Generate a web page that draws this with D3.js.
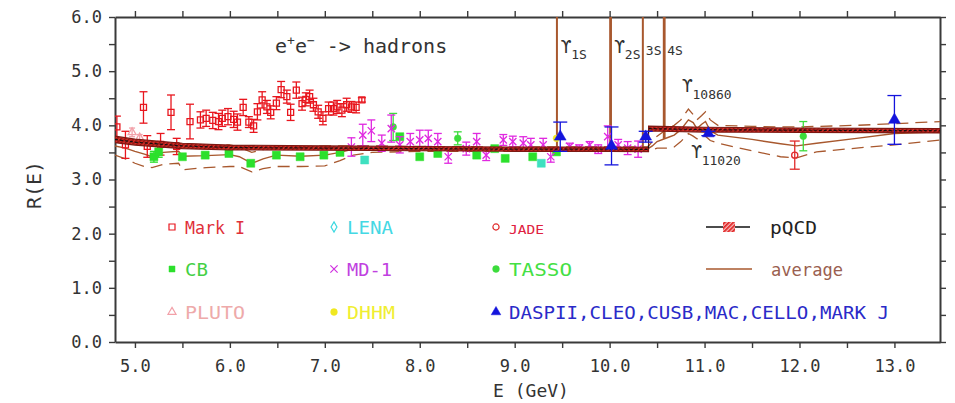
<!DOCTYPE html>
<html>
<head>
<meta charset="utf-8">
<script src="https://cdn.jsdelivr.net/npm/d3@7"></script>
<style>
  body { margin: 0; background: #fff; }
  svg { display: block; }
  text { font-family: "DejaVu Sans Mono", monospace; }
</style>
</head>
<body>
<div id="chart"></div>
<script>
// ---- data: [E (GeV), R, error] ----
const markI = [[4.81,3.97,0.20],[4.90,3.64,0.25],[5.09,4.33,0.29],[5.13,3.61,0.20],[5.27,3.65,0.20],
  [5.38,4.24,0.32],[5.44,3.61,0.15],[5.58,4.07,0.32],[5.69,4.10,0.15],[5.75,4.13,0.15],[5.82,4.09,0.15],
  [5.88,4.07,0.15],[5.92,4.13,0.15],[5.98,4.16,0.15],[6.04,4.11,0.15],[6.08,4.06,0.15],[6.14,4.33,0.15],
  [6.20,4.06,0.10],[6.25,3.99,0.12],[6.29,4.25,0.15],[6.34,4.47,0.15],[6.39,4.34,0.12],[6.43,4.24,0.12],
  [6.49,4.41,0.12],[6.54,4.66,0.15],[6.60,4.53,0.12],[6.64,4.24,0.15],[6.70,4.65,0.15],[6.76,4.40,0.12],
  [6.80,4.48,0.12],[6.84,4.53,0.12],[6.88,4.38,0.12],[6.93,4.25,0.12],[6.98,4.13,0.12],[7.04,4.31,0.12],
  [7.09,4.31,0.12],[7.13,4.34,0.12],[7.18,4.28,0.12],[7.23,4.38,0.12],[7.28,4.34,0.10],[7.33,4.33,0.10],
  [7.39,4.47,0.04]];
const cb = [[5.20,3.42,0.10],[5.25,3.51,0.10],[5.50,3.42,0],[5.74,3.45,0],[5.99,3.48,0],[6.22,3.30,0],
  [6.49,3.45,0],[6.74,3.42,0],[6.99,3.45,0],[7.16,3.50,0],[7.79,3.79,0],[8.00,3.42,0],[8.19,3.48,0],
  [8.60,3.45,0],[8.79,3.57,0],[8.90,3.39,0],[9.19,3.42,0],[9.44,3.51,0]];
const pluto = [[4.97,3.87,0.08],[5.05,3.77,0.06]];
const lena = [[7.42,3.36,0],[9.28,3.30,0]];
const md1 = [[7.28,3.60,0.17],[7.40,3.82,0.20],[7.49,3.90,0.20],[7.60,3.67,0.15],[7.70,3.94,0.25],
  [7.79,3.64,0.15],[7.90,3.70,0.15],[8.00,3.73,0.18],[8.09,3.76,0.15],[8.19,3.70,0.15],[8.30,3.42,0.12],
  [8.49,3.57,0.12],[8.60,3.70,0.15],[8.70,3.45,0.10],[8.88,3.73,0.10],[8.98,3.70,0.10],[9.09,3.67,0.12],
  [9.17,3.64,0.12],[9.30,3.64,0.12],[9.38,3.42,0.10],[9.58,3.61,0.06],[9.68,3.58,0.06],[9.79,3.64,0.06],
  [9.88,3.56,0.08],[9.98,3.79,0.20],[10.09,3.64,0.10],[10.19,3.58,0.12],[10.30,3.56,0.15]];
const dhhm = [[9.44,3.76,0]];
const jade = [[11.95,3.45,0.26]];
const tasso = [[7.72,3.97,0.25],[8.40,3.76,0.12],[12.04,3.80,0.27]];
const dasp = [[9.48,3.79,0.27],[10.02,3.62,0.35],[10.38,3.79,0.10],[11.04,3.85,0.04],[13.00,4.10,0.45]];

// pQCD band
const qcdE   = [4.79, 5.0, 5.5, 6.0, 7.0, 8.0, 9.0, 10.0, 10.41, 10.41, 11.0, 12.0, 13.48];
const qcdR   = [3.74, 3.69, 3.62, 3.59, 3.58, 3.57, 3.56, 3.56, 3.555, 3.94, 3.92, 3.91, 3.90];
const qcdErr = [0.06, 0.055, 0.05, 0.045, 0.04, 0.04, 0.04, 0.04, 0.04, 0.045, 0.045, 0.04, 0.04];

// average with its error band
const avgE  = [4.79,4.9,5.0,5.1,5.18,5.3,5.46,5.5,5.75,6.0,6.1,6.23,6.35,6.49,6.75,7.0,7.16,7.3,7.5,8.0,9.0,
  10.0,10.4,10.45,10.5,10.62,10.68,10.75,10.83,10.88,10.92,10.97,11.01,11.06,11.14,11.5,11.8,11.97,12.18,12.6,13.0,13.48];
const avgR  = [3.62,3.58,3.52,3.47,3.42,3.50,3.52,3.43,3.44,3.46,3.42,3.30,3.38,3.45,3.43,3.45,3.50,3.56,3.57,3.57,3.56,
  3.56,3.56,3.62,3.70,3.78,3.82,3.92,4.10,4.05,3.94,4.02,4.07,3.90,3.82,3.74,3.66,3.62,3.67,3.76,3.85,3.88];
const avgLo = [3.45,3.38,3.30,3.24,3.22,3.28,3.30,3.18,3.22,3.24,3.24,3.14,3.20,3.24,3.24,3.25,3.35,3.45,3.50,3.52,3.52,
  3.52,3.52,3.55,3.58,3.58,3.60,3.70,3.85,3.80,3.75,3.78,3.80,3.72,3.67,3.53,3.42,3.40,3.51,3.58,3.64,3.73];
const avgHi = [3.78,3.74,3.70,3.68,3.62,3.66,3.68,3.62,3.62,3.64,3.60,3.50,3.55,3.62,3.60,3.62,3.62,3.62,3.62,3.61,3.60,
  3.60,3.60,3.70,3.80,3.95,4.00,4.10,4.30,4.20,4.10,4.18,4.25,4.10,4.00,3.98,3.97,3.97,3.98,4.00,4.03,4.07];

// Upsilon resonances
const upsE = [9.445, 10.01, 10.35, 10.575];
const upsSub = ['1S', '2S', '3S', '4S'];

const legendNames = ['Mark I', 'LENA', 'JADE', 'CB', 'MD-1', 'TASSO', 'PLUTO', 'DHHM',
  'DASPII,CLEO,CUSB,MAC,CELLO,MARK J'];

// ---- layout ----
const W = 955, H = 403;
const axisCol = '#3a3a3a';
const x = d3.scaleLinear().domain([4.79, 13.48]).range([115, 940]);
const y = d3.scaleLinear().domain([0, 6]).range([342, 17]);

const svg = d3.select('#chart').append('svg').attr('width', W).attr('height', H);
const defs = svg.append('defs');
defs.append('clipPath').attr('id', 'plot')
  .append('rect').attr('x', 115).attr('y', 17).attr('width', 825).attr('height', 325);
const hatch = defs.append('pattern').attr('id', 'hatch')
  .attr('patternUnits', 'userSpaceOnUse').attr('width', 3).attr('height', 3)
  .attr('patternTransform', 'rotate(45)');
hatch.append('rect').attr('width', 3).attr('height', 3).attr('fill', '#d8302a');
hatch.append('rect').attr('width', 1.5).attr('height', 3).attr('fill', '#901410');
const hatchLeg = defs.append('pattern').attr('id', 'hatchLeg')
  .attr('patternUnits', 'userSpaceOnUse').attr('width', 3).attr('height', 3)
  .attr('patternTransform', 'rotate(45)');
hatchLeg.append('rect').attr('width', 3).attr('height', 3).attr('fill', '#f6b8b8');
hatchLeg.append('rect').attr('width', 1.6).attr('height', 3).attr('fill', '#e01c1c');

// axes
const xt = d3.range(5, 13.01, 0.5);
const yt = d3.range(0, 6.01, 0.5);
const fmt = d => Number.isInteger(d) ? d.toFixed(1) : '';

function styleAxis(g) {
  g.select('.domain').attr('stroke', axisCol).attr('stroke-width', 2);
  g.selectAll('.tick line').attr('stroke', axisCol).attr('stroke-width', 1.4);
  g.selectAll('.tick text').attr('fill', '#333').attr('font-size', 17)
    .attr('font-family', '"DejaVu Sans Mono", monospace');
}
svg.append('g').attr('transform', 'translate(0,342)')
  .call(d3.axisBottom(x).tickValues(xt).tickFormat(fmt).tickSize(6).tickSizeOuter(0).tickPadding(12))
  .call(styleAxis);
svg.append('g').attr('transform', 'translate(0,17)')
  .call(d3.axisTop(x).tickValues(xt).tickFormat('').tickSize(6).tickSizeOuter(0))
  .call(styleAxis);
svg.append('g').attr('transform', 'translate(115,0)')
  .call(d3.axisLeft(y).tickValues(yt).tickFormat(fmt).tickSize(6).tickSizeOuter(0).tickPadding(7))
  .call(styleAxis);
svg.append('g').attr('transform', 'translate(940,0)')
  .call(d3.axisRight(y).tickValues(yt).tickFormat('').tickSize(6).tickSizeOuter(0))
  .call(styleAxis);

svg.append('text').attr('x', 531).attr('y', 397).attr('text-anchor', 'middle')
  .attr('font-size', 18).attr('fill', '#333').text('E (GeV)');
svg.append('text').attr('transform', 'translate(41,185) rotate(-90)').attr('text-anchor', 'middle')
  .attr('font-size', 20).attr('fill', '#333').text('R(E)');

// process label
const proc = svg.append('text').attr('x', 275).attr('y', 53).attr('font-size', 20).attr('fill', '#333');
proc.append('tspan').text('e');
proc.append('tspan').attr('font-size', 13).attr('dy', -8).text('+');
proc.append('tspan').attr('dy', 8).text('e');
proc.append('tspan').attr('font-size', 13).attr('dy', -8).text('\u2212');
proc.append('tspan').attr('dy', 8).text('  -> hadrons');

const plot = svg.append('g').attr('clip-path', 'url(#plot)');

// average curve, error band and resonance spikes
const brown = '#a8582e';
const line = d3.line().x(d => x(d[0])).y(d => y(d[1]));
const avgMid = d3.scaleLinear().domain(avgE).range(avgR);
[avgLo, avgHi].forEach(arr => {
  plot.append('path').datum(avgE.map((e, i) => [e, arr[i]])).attr('d', line)
    .attr('fill', 'none').attr('stroke', brown).attr('stroke-width', 1.3).attr('stroke-dasharray', '12,7');
});
plot.append('path').datum(avgE.map((e, i) => [e, avgR[i]])).attr('d', line)
  .attr('fill', 'none').attr('stroke', brown).attr('stroke-width', 1.4);
upsE.forEach((e, i) => {
  plot.append('line').attr('x1', x(e)).attr('x2', x(e)).attr('y1', y(avgMid(e))).attr('y2', y(6.2))
    .attr('stroke', brown).attr('stroke-width', i % 2 ? 2.8 : 2.0);
});

// symbols
const sym = {
  square: d3.symbol(d3.symbolSquare, 36),
  bigsquare: d3.symbol(d3.symbolSquare, 64),
  tri: d3.symbol(d3.symbolTriangle, 60),
  smalltri: d3.symbol(d3.symbolTriangle, 28),
  circle: d3.symbol(d3.symbolCircle, 30),
  dot: d3.symbol(d3.symbolCircle, 36),
  diamond: d3.symbol(d3.symbolDiamond, 30),
  times: d3.symbol(d3.symbolTimes, 36)
};

function drawSeries(g, data, color, shape, filled, cap) {
  const eb = data.filter(d => d[2] > 0);
  g.selectAll(null).data(eb).join('line')
    .attr('x1', d => x(d[0])).attr('x2', d => x(d[0]))
    .attr('y1', d => y(d[1] - d[2])).attr('y2', d => y(d[1] + d[2]))
    .attr('stroke', color).attr('stroke-width', 1.3);
  [-1, 1].forEach(s => {
    g.selectAll(null).data(eb).join('line')
      .attr('x1', d => x(d[0]) - cap).attr('x2', d => x(d[0]) + cap)
      .attr('y1', d => y(d[1] + s * d[2])).attr('y2', d => y(d[1] + s * d[2]))
      .attr('stroke', color).attr('stroke-width', 1.3);
  });
  g.selectAll(null).data(data).join('path')
    .attr('transform', d => `translate(${x(d[0])},${y(d[1])})`)
    .attr('d', sym[shape]())
    .attr('fill', filled ? color : '#fff').attr('fill-opacity', filled ? 1 : 0)
    .attr('stroke', color).attr('stroke-width', filled ? 0.5 : 1.3);
}

drawSeries(plot, markI, '#e8161e', 'square', false, 4);
drawSeries(plot, cb, '#2ce02c', 'bigsquare', true, 4);
drawSeries(plot, lena, '#3fe0c0', 'bigsquare', true, 4);
drawSeries(plot, pluto, '#f2a0a8', 'smalltri', false, 3);
drawSeries(plot, tasso, '#3cdc3c', 'dot', true, 4);
drawSeries(plot, md1, '#e028e0', 'times', false, 4);
drawSeries(plot, dhhm, '#f0e820', 'dot', true, 4);
drawSeries(plot, jade, '#e02a2a', 'circle', false, 5);

// pQCD band with black central line
const band = d3.area().x(d => x(d[0])).y0(d => y(d[1] - d[2])).y1(d => y(d[1] + d[2]));
const qcd = qcdE.map((e, i) => [e, qcdR[i], qcdErr[i]]);
plot.append('path').datum(qcd).attr('d', band)
  .attr('fill', 'url(#hatch)').attr('stroke', '#7e1812').attr('stroke-width', 1.1);
plot.append('path').datum(qcd).attr('d', line)
  .attr('fill', 'none').attr('stroke', '#111').attr('stroke-width', 1.2).attr('stroke-dasharray', '3,2');

drawSeries(plot, dasp, '#1414dc', 'tri', true, 7);

// resonance labels
const upsLab = svg.append('g').attr('fill', '#333');
upsE.forEach((e, i) => {
  const t = upsLab.append('text').attr('x', x(e) + (i < 2 ? 4 : 3)).attr('y', 53).attr('font-size', 17)
    .attr('font-family', '"DejaVu Sans", sans-serif');
  if (i < 2) t.append('tspan').text('\u03d2');
  t.append('tspan').attr('font-size', 13).attr('dy', i < 2 ? 6 : 2).text(upsSub[i]);
});
[[10.86, 'ϒ', '10860', -9, 92], [11.02, 'ϒ', '11020', -15, 158]].forEach(([e, s, lab, dx, yy]) => {
  const t = upsLab.append('text').attr('x', x(e) + dx).attr('y', yy).attr('font-size', 17)
    .attr('font-family', '"DejaVu Sans", sans-serif');
  t.append('tspan').text(s);
  t.append('tspan').attr('font-size', 13).attr('dy', 7).text(lab);
});

// legend
const legCols = [172, 334, 496];
const legRows = [227, 269, 312];
const legSpec = [
  ['#e8161e', '#e0303a', 'square', false], ['#3ad8e0', '#44d8e4', 'diamond', false], ['#e02a2a', '#e02040', 'circle', false],
  ['#2ce02c', '#44d044', 'bigsquare', true], ['#d030e0', '#c040e0', 'times', false], ['#3cdc3c', '#44e044', 'dot', true],
  ['#f2a0a8', '#eeaaaa', 'smalltri', false], ['#f0e820', '#f0ee30', 'dot', true], ['#1414dc', '#2a2ac8', 'tri', true]
];
const legWidth = [60, 46, 35, 23, 45, 63, 60, 48, 380];
const leg = svg.append('g');
legendNames.forEach((name, i) => {
  const cx = legCols[i % 3], cy = legRows[Math.floor(i / 3)];
  const [mc, tc, shape, filled] = legSpec[i];
  leg.append('path').attr('transform', `translate(${cx},${cy})`)
    .attr('d', (shape === 'bigsquare' ? sym.square : shape === 'tri' ? d3.symbol(d3.symbolTriangle, 40) : sym[shape])())
    .attr('fill', filled ? mc : 'none').attr('stroke', mc).attr('stroke-width', filled ? 0.5 : 1.2);
  leg.append('text').attr('x', cx + 13).attr('y', cy + 7)
    .attr('font-size', name === 'JADE' ? 13 : 18).attr('fill', tc)
    .attr('textLength', legWidth[i]).attr('lengthAdjust', 'spacingAndGlyphs').text(name);
});
// pQCD legend entry
leg.append('line').attr('x1', 706).attr('x2', 750).attr('y1', 227).attr('y2', 227)
  .attr('stroke', '#111').attr('stroke-width', 1.5);
leg.append('rect').attr('x', 723).attr('y', 222).attr('width', 12).attr('height', 10).attr('fill', 'url(#hatchLeg)');
leg.append('text').attr('x', 770).attr('y', 234).attr('font-size', 18).attr('fill', '#222')
  .attr('textLength', 47).attr('lengthAdjust', 'spacingAndGlyphs').text('pQCD');
leg.append('line').attr('x1', 706).attr('x2', 752).attr('y1', 269).attr('y2', 269)
  .attr('stroke', brown).attr('stroke-width', 1.4);
leg.append('text').attr('x', 771).attr('y', 276).attr('font-size', 18).attr('fill', '#9a6050')
  .attr('textLength', 72).attr('lengthAdjust', 'spacingAndGlyphs').text('average');
</script>
</body>
</html>
